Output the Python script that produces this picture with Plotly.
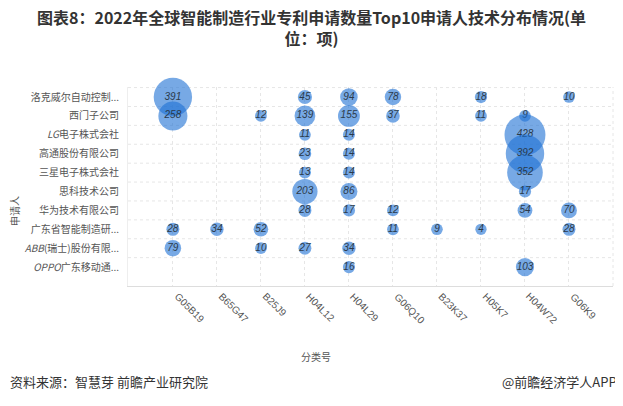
import plotly.graph_objects as go

categories = ["G05B19", "B65G47", "B25J9", "H04L12", "H04L29", "G06Q10", "B23K37", "H05K7", "H04W72", "G06K9"]
applicants = ["洛克威尔自动控制...", "西门子公司", "<i>LG</i>电子株式会社", "高通股份有限公司", "三星电子株式会社",
              "思科技术公司", "华为技术有限公司", "广东省智能制造研...", "<i>ABB</i>(瑞士)股份有限...", "<i>OPPO</i>广东移动通..."]

# values per applicant: category -> count
rockwell = {"G05B19": 391, "H04L12": 45, "H04L29": 94, "G06Q10": 78, "H05K7": 18, "G06K9": 10}
siemens = {"G05B19": 258, "B25J9": 12, "H04L12": 139, "H04L29": 155, "G06Q10": 37, "H05K7": 11, "H04W72": 9}
lg = {"H04L12": 11, "H04L29": 14, "H04W72": 428}
qualcomm = {"H04L12": 23, "H04L29": 14, "H04W72": 392}
samsung = {"H04L12": 13, "H04L29": 14, "H04W72": 352}
cisco = {"H04L12": 203, "H04L29": 86, "H04W72": 17}
huawei = {"H04L12": 28, "H04L29": 17, "G06Q10": 12, "H04W72": 54, "G06K9": 70}
guangdong = {"G05B19": 28, "B65G47": 34, "B25J9": 52, "G06Q10": 11, "B23K37": 9, "H05K7": 4, "G06K9": 28}
abb = {"G05B19": 79, "B25J9": 10, "H04L12": 27, "H04L29": 34}
oppo = {"H04L29": 16, "H04W72": 103}

rows = [rockwell, siemens, lg, qualcomm, samsung, cisco, huawei, guangdong, abb, oppo]

fig = go.Figure()
for name, row in zip(applicants, rows):
    xs = [c for c in categories if c in row]
    vs = [row[c] for c in xs]
    fig.add_trace(go.Scatter(
        x=[categories.index(c) for c in xs],
        y=[applicants.index(name)] * len(xs),
        mode="markers+text",
        text=[f"<i>{v}</i>" for v in vs],
        textposition="middle center",
        textfont=dict(family="Liberation Sans, Arial", size=10, color="#2b3a4a"),
        marker=dict(size=[11 + 0.07 * v for v in vs], sizemode="diameter",
                    color="rgba(30,112,212,0.86)", line=dict(width=0)),
        showlegend=False, hoverinfo="skip", cliponaxis=False,
    ))

# the page body adds an 8px offset, so margins are shifted by 8px
fig.update_layout(
    width=623, height=406,
    margin=dict(l=120, r=18, t=79, b=128, autoexpand=False),
    paper_bgcolor="white", plot_bgcolor="white",
    font=dict(family="Noto Sans CJK SC, Liberation Sans", color="#555"),
)

fig.update_xaxes(
    tickmode="array", tickvals=list(range(len(categories))), ticktext=[""] * len(categories),
    range=[-1.02, 10], showgrid=True, gridcolor="#e6e6e6", griddash="dot",
    zeroline=False, showline=True, linecolor="#dddddd", linewidth=1, ticks="", automargin=False,
)
fig.update_yaxes(
    tickmode="array", tickvals=list(range(len(applicants))), ticktext=applicants,
    range=[10, -0.53], showgrid=False, zeroline=False, showline=True, linecolor="#eeeeee",
    ticks="", ticklabelstandoff=6, automargin=False,
    tickfont=dict(family="Noto Sans CJK SC", size=10, color="#555"),
)

# horizontal dotted grid at row boundaries
for i in range(len(applicants)):
    fig.add_shape(type="line", xref="paper", x0=0, x1=1, yref="y", y0=i - 0.5, y1=i - 0.5,
                  line=dict(color="#e6e6e6", width=1, dash="dot"), layer="below")
fig.add_shape(type="line", xref="paper", x0=1, x1=1, yref="paper", y0=0, y1=1,
              line=dict(color="#e6e6e6", width=1, dash="dot"), layer="below")

# rotated category labels
for i, c in enumerate(categories):
    fig.add_annotation(text=c, x=i - 0.08, xref="x", y=-0.01, yref="paper", xanchor="left", yanchor="top",
                       textangle=45, showarrow=False,
                       font=dict(family="Liberation Sans, Arial", size=10, color="#555"))

# title (two lines)
fig.add_annotation(text="<b>图表8：2022年全球智能制造行业专利申请数量Top10申请人技术分布情况(单<br>位：项)</b>",
                   xref="paper", yref="paper", x=(311 - 128) / 485, y=(286 - 28) / 199,
                   xanchor="center", yanchor="middle", align="center", showarrow=False,
                   font=dict(family="Noto Sans CJK SC", size=16, color="#333"))

fig.add_annotation(text="申请人", xref="paper", yref="paper", x=(14 - 128) / 485, y=(286 - 211) / 199,
                   textangle=-90, xanchor="center", yanchor="middle",
                   showarrow=False, font=dict(family="Noto Sans CJK SC", size=10, color="#555"))
fig.add_annotation(text="分类号", xref="paper", yref="paper", x=(316 - 128) / 485, y=(286 - 356) / 199,
                   xanchor="center", yanchor="middle",
                   showarrow=False, font=dict(family="Noto Sans CJK SC", size=10, color="#555"))
fig.add_annotation(text="资料来源：智慧芽 前瞻产业研究院", xref="paper", yref="paper",
                   x=(8 - 128) / 485, y=(286 - 381) / 199,
                   xanchor="left", yanchor="middle", showarrow=False,
                   font=dict(family="Noto Sans CJK SC", size=13, color="#333"))
fig.add_annotation(text="@前瞻经济学人APP", xref="paper", yref="paper",
                   x=(619 - 128) / 485, y=(286 - 381) / 199,
                   xanchor="right", yanchor="middle", showarrow=False,
                   font=dict(family="Noto Sans CJK SC", size=13, color="#333"))

fig.write_html("out.html")
